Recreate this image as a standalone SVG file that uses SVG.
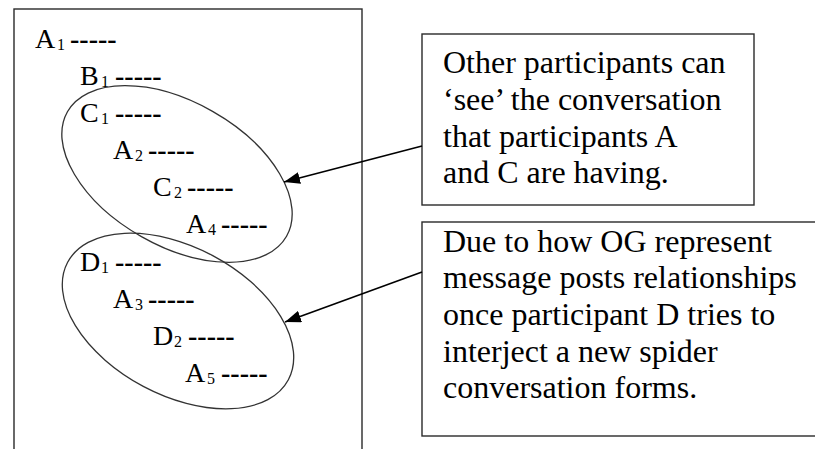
<svg xmlns="http://www.w3.org/2000/svg" width="815" height="449" viewBox="0 0 815 449">
<style>
.box{fill:none;stroke:#2a2a2a;stroke-width:1.4}
.ell{fill:none;stroke:#333;stroke-width:1.3}
.m{font-size:28px}
.s{font-size:16px}
.d{font-size:28px;font-weight:bold}
.c{font-size:32px}
.con{stroke:#000;stroke-width:1.6;fill:none}
</style>
<defs>
<marker id="ah" markerUnits="userSpaceOnUse" markerWidth="16" markerHeight="12" refX="16" refY="6" orient="auto">
<path d="M0,0 L16,6 L0,12 z" fill="#000"/>
</marker>
</defs>
<rect width="815" height="449" fill="#fff"/>
<g id="thread" fill="#000">
<rect class="box" x="14" y="9" width="348" height="460"/>
<text font-family="Liberation Serif" class="m" x="35" y="48">A</text><text font-family="Liberation Serif" class="s" x="57" y="50">1</text><text font-family="Liberation Serif" class="d" x="70" y="48">-----</text>
<text font-family="Liberation Serif" class="m" x="80" y="85">B</text><text font-family="Liberation Serif" class="s" x="101" y="87">1</text><text font-family="Liberation Serif" class="d" x="115" y="85">-----</text>
<text font-family="Liberation Serif" class="m" x="80" y="122">C</text><text font-family="Liberation Serif" class="s" x="101" y="124">1</text><text font-family="Liberation Serif" class="d" x="115" y="122">-----</text>
<text font-family="Liberation Serif" class="m" x="113" y="159">A</text><text font-family="Liberation Serif" class="s" x="135" y="161">2</text><text font-family="Liberation Serif" class="d" x="148" y="159">-----</text>
<text font-family="Liberation Serif" class="m" x="153" y="196">C</text><text font-family="Liberation Serif" class="s" x="174" y="198">2</text><text font-family="Liberation Serif" class="d" x="187" y="196">-----</text>
<text font-family="Liberation Serif" class="m" x="186" y="233">A</text><text font-family="Liberation Serif" class="s" x="208" y="235">4</text><text font-family="Liberation Serif" class="d" x="221" y="233">-----</text>
<text font-family="Liberation Serif" class="m" x="80" y="271">D</text><text font-family="Liberation Serif" class="s" x="101" y="273">1</text><text font-family="Liberation Serif" class="d" x="115" y="271">-----</text>
<text font-family="Liberation Serif" class="m" x="113" y="308">A</text><text font-family="Liberation Serif" class="s" x="135" y="310">3</text><text font-family="Liberation Serif" class="d" x="148" y="308">-----</text>
<text font-family="Liberation Serif" class="m" x="153" y="345">D</text><text font-family="Liberation Serif" class="s" x="174" y="347">2</text><text font-family="Liberation Serif" class="d" x="188" y="345">-----</text>
<text font-family="Liberation Serif" class="m" x="185" y="382">A</text><text font-family="Liberation Serif" class="s" x="207" y="384">5</text><text font-family="Liberation Serif" class="d" x="221" y="382">-----</text>
</g>
<g id="group-ac">
<ellipse class="ell" cx="177" cy="174" rx="126" ry="72" transform="rotate(29.6 177 174)"/>
</g>
<g id="group-d">
<ellipse class="ell" cx="178" cy="321" rx="125" ry="74" transform="rotate(28 178 321)"/>
</g>
<g id="note1" fill="#000">
<rect class="box" x="422" y="34" width="332" height="171"/>
<text font-family="Liberation Serif" class="c" x="443" y="73">Other participants can</text>
<text font-family="Liberation Serif" class="c" x="443" y="110">‘see’ the conversation</text>
<text font-family="Liberation Serif" class="c" x="443" y="147">that participants A</text>
<text font-family="Liberation Serif" class="c" x="443" y="183">and C are having.</text>
</g>
<g id="note2" fill="#000">
<rect class="box" x="422" y="222" width="420" height="214"/>
<text font-family="Liberation Serif" class="c" x="443" y="252">Due to how OG represent</text>
<text font-family="Liberation Serif" class="c" x="443" y="288">message posts relationships</text>
<text font-family="Liberation Serif" class="c" x="443" y="325">once participant D tries to</text>
<text font-family="Liberation Serif" class="c" x="443" y="362">interject a new spider</text>
<text font-family="Liberation Serif" class="c" x="443" y="398">conversation forms.</text>
</g>
<g id="connectors">
<line class="con" x1="422" y1="146" x2="284" y2="182" marker-end="url(#ah)"/>
<line class="con" x1="422" y1="272" x2="285" y2="322" marker-end="url(#ah)"/>
</g>
</svg>
